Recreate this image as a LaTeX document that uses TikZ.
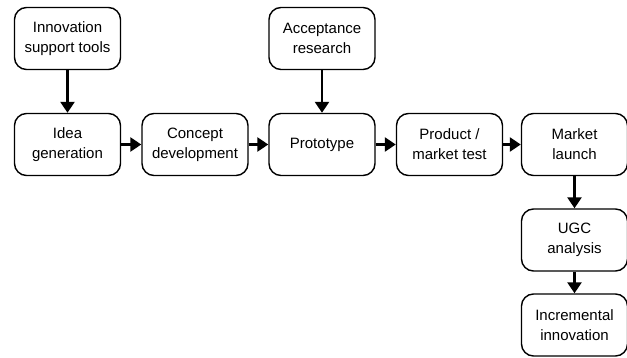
\documentclass[tikz,border=0pt]{standalone}
\usepackage{fontspec}
\setmainfont{Liberation Sans}
\usetikzlibrary{arrows.meta}
\begin{document}
\begin{tikzpicture}[x=1pt,y=1pt,
  stage/.style={draw=black, line width=1.4pt, rounded corners=12pt,
    minimum width=106pt, minimum height=62pt, inner sep=0pt,
    align=center, font=\fontsize{15}{20}\selectfont},
  flow/.style={line width=2.6pt, -{Triangle[length=11pt,width=14pt]}}]
\useasboundingbox (0,0) rectangle (627,-358);
% top row: supporting inputs
\node[stage] (tools) at (67.5,-38.5) {Innovation\\support tools};
\node[stage] (accept) at (322,-38.5) {Acceptance\\research};
% main process row
\node[stage] (idea) at (67.5,-144.5) {Idea\\generation};
\node[stage] (concept) at (195,-144.5) {Concept\\development};
\node[stage] (proto) at (322,-144.5) {Prototype};
\node[stage] (test) at (449.5,-144.5) {Product /\\market test};
\node[stage] (launch) at (574.5,-144.5) {Market\\launch};
% post-launch column
\node[stage] (ugc) at (574.5,-240) {UGC\\analysis};
\node[stage] (incr) at (574.5,-325) {Incremental\\innovation};
% connectors
\draw[flow] (tools) -- (idea);
\draw[flow] (accept) -- (proto);
\draw[flow] (idea) -- (concept);
\draw[flow] (concept) -- (proto);
\draw[flow] (proto) -- (test);
\draw[flow] (test) -- (launch);
\draw[flow] (launch) -- (ugc);
\draw[flow] (ugc) -- (incr);
\end{tikzpicture}
\end{document}
